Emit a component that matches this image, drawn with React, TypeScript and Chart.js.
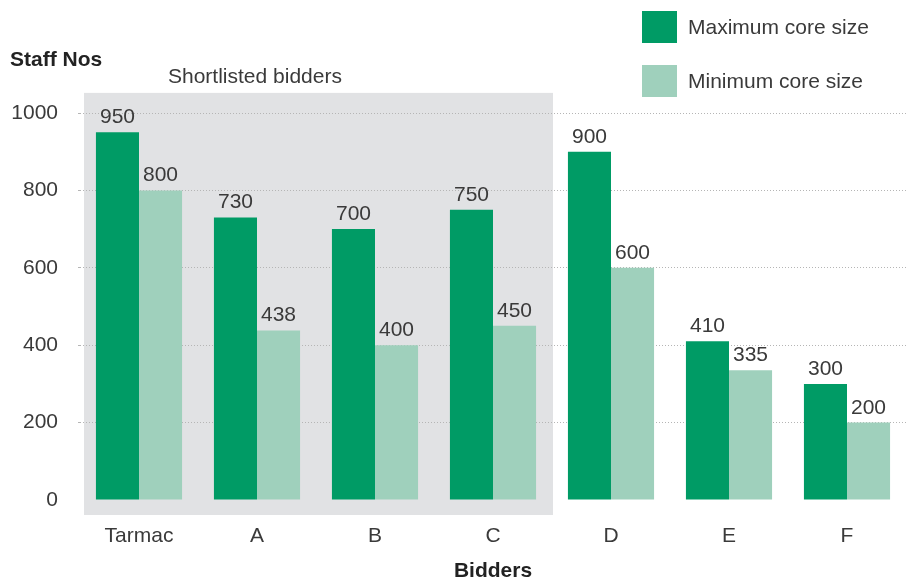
import React, { useEffect, useRef } from "react";
import { Chart, registerables } from "chart.js";

Chart.register(...registerables);

const categories = ["Tarmac", "A", "B", "C", "D", "E", "F"];
const maxCore = [950, 730, 700, 750, 900, 410, 300];
const minCore = [800, 438, 400, 450, 600, 335, 200];
const yTicks = [0, 200, 400, 600, 800, 1000];
const seriesNames = ["Maximum core size", "Minimum core size"];
const shortlistedCount = 4;

const DARK = "#009B65";
const LIGHT = "#9FD0BC";
const GRAY = "#E1E2E4";
const TEXT = "#3a3a3a";
const FONT = "'Liberation Sans', Arial, Helvetica, sans-serif";
const FS = 21;

const overlayPlugin = {
  id: "overlay",
  beforeDraw(chart: any) {
    const { ctx, chartArea, scales } = chart;
    const x = scales.x;
    const y = scales.y;
    const step = x.getPixelForValue(1) - x.getPixelForValue(0);
    const left = chartArea.left + 4;
    const right = x.getPixelForValue(shortlistedCount - 1) + step / 2 + 1;
    const top = y.getPixelForValue(1052);
    const bottom = chartArea.bottom + 15;
    ctx.save();
    ctx.fillStyle = GRAY;
    ctx.fillRect(left, top, right - left, bottom - top);
    ctx.fillStyle = TEXT;
    ctx.font = `${FS}px ${FONT}`;
    ctx.textAlign = "left";
    ctx.textBaseline = "middle";
    ctx.fillText("Shortlisted bidders", left + 84, top - 16);
    ctx.restore();
  },
  afterDatasetsDraw(chart: any) {
    const { ctx } = chart;
    ctx.save();
    ctx.fillStyle = TEXT;
    ctx.font = `${FS}px ${FONT}`;
    ctx.textAlign = "center";
    ctx.textBaseline = "alphabetic";
    chart.data.datasets.forEach((ds: any, di: number) => {
      const meta = chart.getDatasetMeta(di);
      meta.data.forEach((bar: any, i: number) => {
        ctx.fillText(String(ds.data[i]), bar.x, bar.y - 9);
      });
    });
    ctx.restore();
  },
  afterDraw(chart: any) {
    const { ctx, chartArea } = chart;
    ctx.save();
    ctx.fillStyle = "#222";
    ctx.font = `bold ${FS}px ${FONT}`;
    ctx.textBaseline = "middle";
    ctx.textAlign = "left";
    ctx.fillText("Staff Nos", 10, 60);
    ctx.textAlign = "center";
    ctx.fillText("Bidders", (chartArea.left + chartArea.right) / 2, 571);
    const colors = [DARK, LIGHT];
    ctx.font = `${FS}px ${FONT}`;
    ctx.textAlign = "left";
    ctx.fillStyle = TEXT;
    seriesNames.forEach((name, i) => {
      const top = 11 + i * 54;
      ctx.fillStyle = colors[i];
      ctx.fillRect(642, top, 35, 32);
      ctx.fillStyle = TEXT;
      ctx.fillText(name, 688, top + 17);
    });
    ctx.restore();
  },
};

export default function App() {
  const ref = useRef<HTMLCanvasElement | null>(null);
  useEffect(() => {
    if (!ref.current) return;
    const chart = new Chart(ref.current, {
      type: "bar",
      data: {
        labels: categories,
        datasets: [
          { label: seriesNames[0], data: maxCore, backgroundColor: DARK, borderWidth: 0 },
          { label: seriesNames[1], data: minCore, backgroundColor: LIGHT, borderWidth: 0 },
        ],
      },
      options: {
        animation: false,
        responsive: false,
        maintainAspectRatio: false,
        layout: { padding: { top: 113, right: 0, left: 0, bottom: 0 } },
        plugins: { legend: { display: false }, tooltip: { enabled: false }, title: { display: false } },
        datasets: { bar: { categoryPercentage: 0.73, barPercentage: 1.0 } },
        scales: {
          x: {
            grid: { display: false, drawTicks: false },
            border: { display: false },
            ticks: { color: TEXT, font: { family: FONT, size: FS }, padding: 24, maxRotation: 0 },
            afterFit(scale: any) {
              scale.height = 80;
            },
          },
          y: {
            min: 0,
            max: 1000,
            afterBuildTicks(scale: any) {
              scale.ticks = yTicks.map((v) => ({ value: v }));
            },
            grid: {
              color: (c: any) => (c.tick && c.tick.value === 0 ? "rgba(0,0,0,0)" : "#b5b5b5"),
              lineWidth: 1,
              drawTicks: true,
              tickLength: 2,
            },
            border: { display: false, dash: [1, 2] },
            ticks: {
              color: TEXT,
              font: { family: FONT, size: FS },
              padding: 20,
              callback: (v: any) => String(v),
            },
            afterFit(scale: any) {
              scale.width = 80;
            },
          },
        },
      } as any,
      plugins: [overlayPlugin],
    });
    return () => chart.destroy();
  }, []);
  return (
    <div style={{ position: "fixed", left: 0, top: 0, width: 906, height: 580, background: "#fff" }}>
      <canvas ref={ref} width={906} height={580} style={{ width: 906, height: 580 }} />
    </div>
  );
}
